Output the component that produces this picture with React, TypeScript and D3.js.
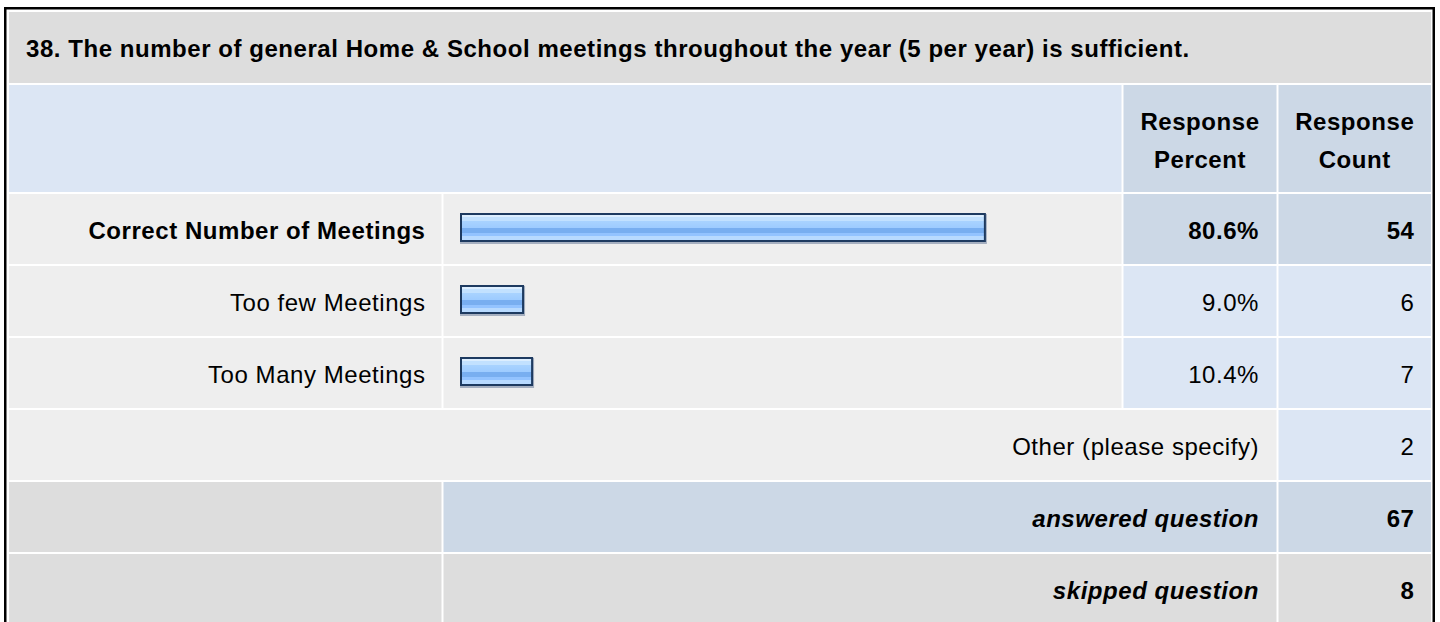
import React from "react";
import * as d3 from "d3";

const title = "38. The number of general Home & School meetings throughout the year (5 per year) is sufficient.";
const headerPercent = ["Response", "Percent"];
const headerCount = ["Response", "Count"];
const categories = ["Correct Number of Meetings", "Too few Meetings", "Too Many Meetings"];
const percents = [80.6, 9.0, 10.4];
const counts = [54, 6, 7];
const otherLabel = "Other (please specify)";
const otherCount = 2;
const answeredLabel = "answered question";
const answeredCount = 67;
const skippedLabel = "skipped question";
const skippedCount = 8;

const FONT = "'Liberation Sans', Arial, sans-serif";
const FS = 24;
const LS = 0.55;

export default function App() {
  // column edges
  const L0 = 9, L1 = 441.5; // label
  const B0 = 443.5, B1 = 1121.5; // bar
  const P0 = 1123.5, P1 = 1276.5; // percent
  const C0 = 1278.5, C1 = 1431; // count
  const titleY0 = 12, titleY1 = 83;
  const headY0 = 85, headY1 = 192;
  const rowTop = 194, rowH = 70, rowGap = 2;
  const rowY = (i: number) => rowTop + i * (rowH + rowGap);

  const x = d3.scaleLinear().domain([0, 100]).range([0, 645]);
  const maxIdx = percents.indexOf(d3.max(percents) as number);

  const light = "#DCE6F4";
  const dark = "#CCD8E6";
  const rowBg = "#EEEEEE";
  const grayBg = "#DDDDDD";
  const barX = 460;
  const barH = 29;

  const textBase = (y: number) => y + 45;

  const cells: React.ReactNode[] = [];
  const texts: React.ReactNode[] = [];

  categories.forEach((c, i) => {
    const y = rowY(i);
    const isMax = i === maxIdx;
    const fw = isMax ? "bold" : "normal";
    cells.push(
      <g key={"r" + i}>
        <rect x={L0} y={y} width={L1 - L0} height={rowH} fill={rowBg} />
        <rect x={B0} y={y} width={B1 - B0} height={rowH} fill={rowBg} />
        <rect x={P0} y={y} width={P1 - P0} height={rowH} fill={isMax ? dark : light} />
        <rect x={C0} y={y} width={C1 - C0} height={rowH} fill={isMax ? dark : light} />
      </g>
    );
    const w = x(percents[i]) + 6;
    const by = y + 19;
    cells.push(
      <g key={"b" + i}>
        <rect x={barX} y={by + 1} width={w + 1} height={barH + 1} fill="#8C9AB0" opacity={0.75} />
        <rect x={barX} y={by} width={w} height={barH} fill="#1D3A60" />
        <rect x={barX + 2} y={by + 2} width={w - 4} height={barH - 4} fill="url(#barGrad)" />
      </g>
    );
    texts.push(
      <g key={"t" + i} fontWeight={fw}>
        <text x={L1 - 16} y={textBase(y)} textAnchor="end">{c}</text>
        <text x={P1 - 17.5} y={textBase(y)} textAnchor="end">{percents[i].toFixed(1) + "%"}</text>
        <text x={C1 - 16.5} y={textBase(y)} textAnchor="end">{counts[i]}</text>
      </g>
    );
  });

  const yO = rowY(3), yA = rowY(4), yS = rowY(5);

  return (
    <svg width={1440} height={622} style={{ position: "absolute", left: 0, top: 0, display: "block" }} fontFamily={FONT} fontSize={FS} letterSpacing={LS}>
      <defs>
        <linearGradient id="barGrad" x1="0" y1="0" x2="0" y2="1">
          <stop offset="0" stopColor="#DCEEFF" />
          <stop offset="0.08" stopColor="#DCEEFF" />
          <stop offset="0.08" stopColor="#C2E1FF" />
          <stop offset="0.24" stopColor="#C2E1FF" />
          <stop offset="0.24" stopColor="#A9D3FF" />
          <stop offset="0.52" stopColor="#9DCBFF" />
          <stop offset="0.52" stopColor="#78AEF0" />
          <stop offset="0.72" stopColor="#78AEF0" />
          <stop offset="0.72" stopColor="#93C3FF" />
          <stop offset="0.84" stopColor="#93C3FF" />
          <stop offset="0.84" stopColor="#B8DAFF" />
          <stop offset="1" stopColor="#B8DAFF" />
        </linearGradient>
      </defs>
      <rect x={0} y={0} width={1440} height={622} fill="#FFFFFF" />
      {/* outer border */}
      <rect x={5.25} y={8.25} width={1428.5} height={640} fill="none" stroke="#000" strokeWidth={2.5} />
      {/* title */}
      <rect x={L0} y={titleY0} width={C1 - L0} height={titleY1 - titleY0} fill={grayBg} />
      <text x={26} y={57} fontWeight="bold">{title}</text>
      {/* header */}
      <rect x={L0} y={headY0} width={B1 - L0} height={headY1 - headY0} fill={light} />
      <rect x={P0} y={headY0} width={P1 - P0} height={headY1 - headY0} fill={dark} />
      <rect x={C0} y={headY0} width={C1 - C0} height={headY1 - headY0} fill={dark} />
      <g fontWeight="bold" textAnchor="middle">
        {headerPercent.map((t, i) => (
          <text key={"hp" + i} x={(P0 + P1) / 2} y={130 + i * 37.5}>{t}</text>
        ))}
        {headerCount.map((t, i) => (
          <text key={"hc" + i} x={(C0 + C1) / 2} y={130 + i * 37.5}>{t}</text>
        ))}
      </g>
      {cells}
      {/* other row */}
      <rect x={L0} y={yO} width={P1 - L0} height={rowH} fill={rowBg} />
      <rect x={C0} y={yO} width={C1 - C0} height={rowH} fill={light} />
      {/* answered row */}
      <rect x={L0} y={yA} width={L1 - L0} height={rowH} fill={grayBg} />
      <rect x={B0} y={yA} width={P1 - B0} height={rowH} fill={dark} />
      <rect x={C0} y={yA} width={C1 - C0} height={rowH} fill={dark} />
      {/* skipped row */}
      <rect x={L0} y={yS} width={L1 - L0} height={rowH} fill={grayBg} />
      <rect x={B0} y={yS} width={P1 - B0} height={rowH} fill={grayBg} />
      <rect x={C0} y={yS} width={C1 - C0} height={rowH} fill={grayBg} />
      <g fill="#000">
        {texts}
        <text x={P1 - 17.5} y={textBase(yO)} textAnchor="end">{otherLabel}</text>
        <text x={C1 - 16.5} y={textBase(yO)} textAnchor="end">{otherCount}</text>
        <text x={P1 - 17.5} y={textBase(yA)} textAnchor="end" fontWeight="bold" fontStyle="italic">{answeredLabel}</text>
        <text x={C1 - 16.5} y={textBase(yA)} textAnchor="end" fontWeight="bold">{answeredCount}</text>
        <text x={P1 - 17.5} y={textBase(yS)} textAnchor="end" fontWeight="bold" fontStyle="italic">{skippedLabel}</text>
        <text x={C1 - 16.5} y={textBase(yS)} textAnchor="end" fontWeight="bold">{skippedCount}</text>
      </g>
    </svg>
  );
}
